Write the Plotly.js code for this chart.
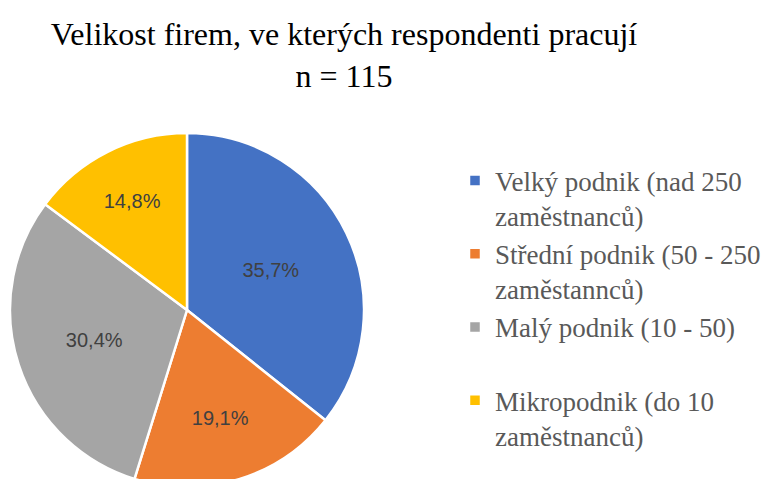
<!DOCTYPE html>
<html>
<head>
<meta charset="utf-8">
<script src="https://cdn.plot.ly/plotly-3.0.1.min.js"></script>
<style>
  html, body { margin: 0; padding: 0; background: #fff; overflow: hidden; }
  #chart { width: 766px; height: 490px; }
</style>
</head>
<body>
<div id="chart"></div>
<script>
const categories = [
  'Velký podnik (nad 250<br>zaměstnanců)',
  'Střední podnik (50 - 250<br>zaměstannců)',
  'Malý podnik (10 - 50)<br> ',
  'Mikropodnik (do 10<br>zaměstnanců)'
];
const shares = [35.7, 19.1, 30.4, 14.8];
const sliceColors = ['#4472C4', '#ED7D31', '#A5A5A5', '#FFC000'];
const titleLines = ['Velikost firem, ve kterých respondenti pracují', 'n = 115'];

const labelsText = shares.map(v => v.toFixed(1).replace('.', ',') + '%');

const W = 766, H = 490;
const cx = 187, cy = 310, R = 177;

const trace = {
  type: 'pie',
  labels: categories,
  values: shares,
  text: labelsText,
  textinfo: 'text',
  textposition: 'inside',
  insidetextorientation: 'horizontal',
  textfont: { family: 'Liberation Sans, Arial, sans-serif', size: 20, color: '#404040' },
  sort: false,
  direction: 'clockwise',
  rotation: 0,
  marker: { colors: sliceColors, line: { color: '#ffffff', width: 2.5 } },
  domain: { x: [(cx - R) / W, (cx + R) / W], y: [(H - cy - R) / H, (H - cy + R) / H] },
  hoverinfo: 'none'
};

const layout = {
  width: W,
  height: H,
  margin: { l: 0, r: 0, t: 0, b: 0 },
  paper_bgcolor: '#ffffff',
  title: {
    text: titleLines.join('<br>'),
    font: { family: 'Liberation Serif, Times New Roman, serif', size: 32, color: '#000000' },
    x: 344 / W,
    xanchor: 'center',
    xref: 'paper',
    y: 1 - 45 / H,
    yanchor: 'top',
    yref: 'container'
  },
  showlegend: true,
  legend: {
    x: 1,
    xanchor: 'right',
    y: 1 - 308 / H,
    yanchor: 'middle',
    valign: 'top',
    font: { family: 'Liberation Serif, Times New Roman, serif', size: 27, color: '#595959' },
    traceorder: 'normal',
    bgcolor: 'rgba(0,0,0,0)'
  }
};

Plotly.newPlot('chart', [trace], layout, { displayModeBar: false, staticPlot: true });
</script>
</body>
</html>
